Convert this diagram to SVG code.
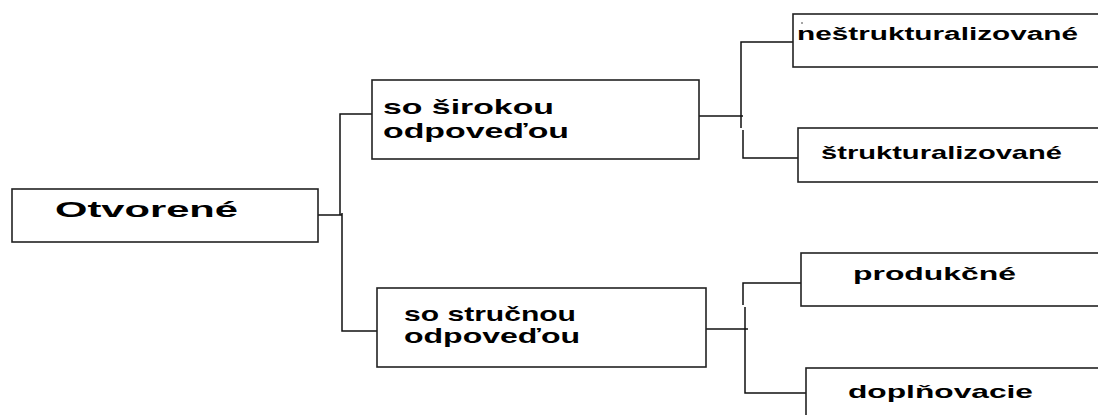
<svg xmlns="http://www.w3.org/2000/svg" width="1098" height="415" viewBox="0 0 1098 415">
  <style>
    .box { fill: #ffffff; stroke: #222222; stroke-width: 1.6; }
    .wire { fill: none; stroke: #111111; stroke-width: 1.5; }
    .lbl { font-family: "Liberation Sans", Arial, sans-serif; font-weight: bold; fill: #000000; }
    .l1 { font-size: 22px; }
    .l2 { font-size: 20.5px; }
    .l3 { font-size: 18.5px; }
    .l3s { font-size: 17.5px; }
  </style>
  <rect width="1098" height="415" fill="#ffffff"/>

  <!-- connectors -->
  <g id="connectors">
    <!-- root to second level -->
    <path class="wire" d="M318,215 H342"/>
    <path class="wire" d="M340,215 V114 H372"/>
    <path class="wire" d="M342,213 V331 H378"/>
    <!-- wide-answer branch -->
    <path class="wire" d="M699,116 H743"/>
    <path class="wire" d="M741,128 V42 H793"/>
    <path class="wire" d="M743,130 V158 H798"/>
    <!-- short-answer branch -->
    <path class="wire" d="M706,329 H748"/>
    <path class="wire" d="M743,305 V283 H802"/>
    <path class="wire" d="M745,307 V393 H807"/>
  </g>

  <g id="otvorene">
    <rect class="box" x="12" y="189" width="306" height="53"/>
    <text class="lbl l1" x="55" y="217" textLength="183" lengthAdjust="spacingAndGlyphs">Otvorené</text>
  </g>

  <g id="so-sirokou">
    <rect class="box" x="372" y="80" width="327" height="79"/>
    <text class="lbl l2" x="383" y="114" textLength="171" lengthAdjust="spacingAndGlyphs">so širokou</text>
    <text class="lbl l2" x="383" y="138" textLength="186" lengthAdjust="spacingAndGlyphs">odpoveďou</text>
  </g>

  <g id="so-strucnou">
    <rect class="box" x="377" y="288" width="329" height="79"/>
    <text class="lbl l2" x="404" y="321" textLength="172" lengthAdjust="spacingAndGlyphs">so stručnou</text>
    <text class="lbl l2" x="404" y="343" textLength="176" lengthAdjust="spacingAndGlyphs">odpoveďou</text>
  </g>

  <g id="nestrukturalizovane">
    <rect class="box" x="793" y="14" width="320" height="53"/>
    <circle cx="802" cy="23" r="0.8" fill="#333333"/>
    <text class="lbl l3s" x="797" y="40" textLength="281" lengthAdjust="spacingAndGlyphs">neštrukturalizované</text>
  </g>

  <g id="strukturalizovane">
    <rect class="box" x="798" y="128" width="315" height="54"/>
    <text class="lbl l3" x="821" y="159" textLength="241" lengthAdjust="spacingAndGlyphs">štrukturalizované</text>
  </g>

  <g id="produkcne">
    <rect class="box" x="801" y="253" width="312" height="53"/>
    <text class="lbl l3" x="853" y="280" textLength="163" lengthAdjust="spacingAndGlyphs">produkčné</text>
  </g>

  <g id="doplnovacie">
    <rect class="box" x="806" y="368" width="307" height="60"/>
    <text class="lbl l3" x="848" y="398" textLength="185" lengthAdjust="spacingAndGlyphs">doplňovacie</text>
  </g>
</svg>
